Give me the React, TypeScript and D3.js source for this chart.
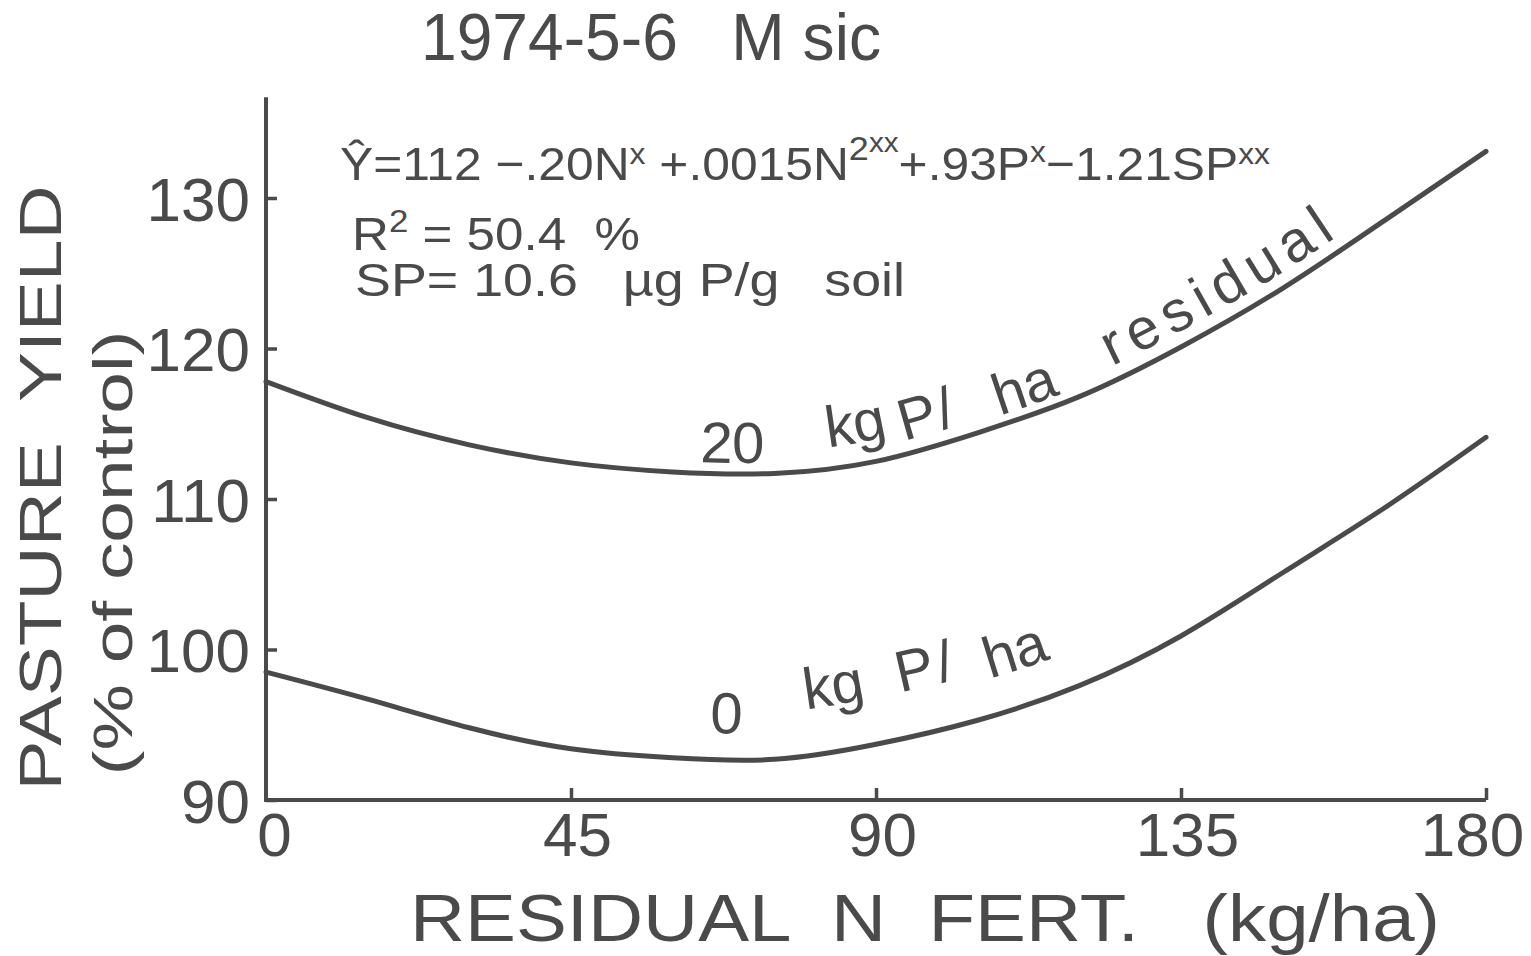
import * as d3 from 'd3';
import { useEffect, useRef } from 'react';

const WIDTH = 1531;
const HEIGHT = 956;

// residual N fertiliser (kg/ha) and pasture yield (% of control)
const N_RATES = [0, 15, 30, 45, 60, 75, 90, 105, 120, 135, 150, 165, 180];
const YIELD_20P = [117.8, 115.4, 113.6, 112.4, 111.8, 111.7, 112.5, 114.4, 116.8, 120.1, 124.0, 128.5, 133.1];
const YIELD_0P = [98.5, 96.7, 94.8, 93.4, 92.8, 92.7, 93.7, 95.3, 97.6, 100.9, 105.1, 109.4, 114.1];
const Y_TICKS = [90, 100, 110, 120, 130];
const X_TICKS = [0, 45, 90, 135, 180];
const Y_TOP = 136.7;

const INK = '#4a4a4a';
const FONT = '"Liberation Sans", Arial, sans-serif';

// hand-lettered words that ride along each curve: [word, start x (px), lift above curve (px), letter spacing]
const LABEL_20P: [string, number, number, number][] = [
    ['20', 700, 11, 0],
    ['kg', 828, 22, 0],
    ['P/', 904, 14, 2],
    ['ha', 1000, 10, 0],
    ['residual', 1112, 16, 8],
];
const LABEL_0P: [string, number, number, number][] = [
    ['0', 710, 27, 0],
    ['kg', 806, 47, 0],
    ['P/', 900, 47, 4],
    ['ha', 990, 38, 0],
];

const CURVES = [
    { key: 'p20', values: YIELD_20P, words: LABEL_20P },
    { key: 'p0', values: YIELD_0P, words: LABEL_0P },
];

/**
 * length along a path where it first reaches x
 */
function lengthAtX(node: SVGPathElement, x: number) {
    let lo = 0;
    let hi = node.getTotalLength();
    for (let i = 0; i < 40; i++) {
        const mid = (lo + hi) / 2;
        if (node.getPointAtLength(mid).x < x) lo = mid;
        else hi = mid;
    }
    return lo;
}

export default function App() {
    const svgRef = useRef<SVGSVGElement>(null);

    useEffect(() => {
        if (!svgRef.current) return;
        const svg = d3.select(svgRef.current);
        svg.selectAll('*').remove();

        const x = d3.scaleLinear().domain([0, 180]).range([266, 1486]);
        const y = d3.scaleLinear().domain([90, 130]).range([800, 198]);

        svg.append('rect').attr('width', WIDTH).attr('height', HEIGHT).attr('fill', '#fff');
        const defs = svg.append('defs');

        // title
        svg.append('text')
            .attr('x', 421)
            .attr('y', 60)
            .attr('font-size', 66)
            .attr('textLength', 460)
            .attr('lengthAdjust', 'spacingAndGlyphs')
            .style('white-space', 'pre')
            .text('1974-5-6   M sic');

        // axes
        const yAxis = d3.axisLeft(y).tickValues(Y_TICKS).tickSize(-11).tickSizeOuter(0).tickPadding(16);
        const gy = svg.append('g').attr('transform', `translate(${x(0)},0)`).call(yAxis);
        const xAxis = d3.axisBottom(x).tickValues(X_TICKS).tickSize(-12).tickSizeOuter(0).tickPadding(12);
        const gx = svg.append('g').attr('transform', `translate(0,${y(90)})`).call(xAxis);

        [gy, gx].forEach((g) => {
            g.select('.domain').remove();
            g.selectAll('.tick line').attr('stroke', INK).attr('stroke-width', 3.5);
            g.selectAll('.tick text')
                .attr('fill', INK)
                .attr('font-family', FONT)
                .attr('font-size', 62);
        });
        gy.selectAll('.tick text').attr('dy', '0.36em');
        gx.selectAll('.tick line').filter((d) => d === 0).remove();
        gx.selectAll('.tick text')
            .attr('dx', (d) => (d === 0 ? 8 : d === 180 ? -14 : 6));

        svg.append('path')
            .attr('d', `M${x(0)},${y(Y_TOP)}V${y(90)}H${x(180)}`)
            .attr('fill', 'none')
            .attr('stroke', INK)
            .attr('stroke-width', 4);

        // axis titles
        svg.append('text')
            .attr('transform', `translate(61,488) rotate(-90)`)
            .attr('text-anchor', 'middle')
            .attr('font-size', 60)
            .attr('textLength', 605)
            .attr('lengthAdjust', 'spacingAndGlyphs')
            .style('white-space', 'pre')
            .text('PASTURE  YIELD');
        svg.append('text')
            .attr('transform', `translate(132,553) rotate(-90)`)
            .attr('text-anchor', 'middle')
            .attr('font-size', 56)
            .attr('textLength', 445)
            .attr('lengthAdjust', 'spacingAndGlyphs')
            .style('white-space', 'pre')
            .text('(% of control)');
        svg.append('text')
            .attr('x', 410)
            .attr('y', 941)
            .attr('font-size', 66)
            .attr('textLength', 1030)
            .attr('lengthAdjust', 'spacingAndGlyphs')
            .style('white-space', 'pre')
            .text('RESIDUAL  N  FERT.   (kg/ha)');

        // regression annotation
        const eq = svg.append('text')
            .attr('x', 340)
            .attr('y', 180)
            .attr('font-size', 47)
            .attr('textLength', 930)
            .attr('lengthAdjust', 'spacingAndGlyphs')
            .style('white-space', 'pre');
        const parts: [string, number, number][] = [
            ['Ŷ=112 −.20N', 0, 47],
            ['x', -16, 30],
            [' +.0015N', 16, 47],
            ['2', -20, 34],
            ['xx', -8, 28],
            ['+.93P', 28, 47],
            ['x', -18, 30],
            ['−1.21SP', 18, 47],
            ['xx', -16, 30],
        ];
        parts.forEach(([t, dy, fs]) => {
            eq.append('tspan').attr('dy', dy).attr('font-size', fs).text(t);
        });

        const r2 = svg.append('text')
            .attr('x', 352)
            .attr('y', 250)
            .attr('font-size', 47)
            .attr('textLength', 288)
            .attr('lengthAdjust', 'spacingAndGlyphs')
            .style('white-space', 'pre');
        r2.append('tspan').text('R');
        r2.append('tspan').attr('dy', -18).attr('font-size', 32).text('2');
        r2.append('tspan').attr('dy', 18).text(' = 50.4  %');

        svg.append('text')
            .attr('x', 355)
            .attr('y', 296)
            .attr('font-size', 47)
            .attr('textLength', 550)
            .attr('lengthAdjust', 'spacingAndGlyphs')
            .style('white-space', 'pre')
            .text('SP= 10.6   µg P/g   soil');

        svg.selectAll('text').attr('fill', INK).attr('font-family', FONT);

        // response curves
        const line = d3
            .line<number>()
            .x((_d, i) => x(N_RATES[i]))
            .y((d) => y(d))
            .curve(d3.curveNatural);

        CURVES.forEach((c) => {
            const d = line(c.values) as string;
            svg.append('path')
                .attr('d', d)
                .attr('fill', 'none')
                .attr('stroke', INK)
                .attr('stroke-width', 5)
                .attr('stroke-linecap', 'round');

            c.words.forEach(([word, startX, lift, spacing], i) => {
                const id = `guide-${c.key}-${i}`;
                const guide = defs
                    .append('path')
                    .attr('id', id)
                    .attr('d', d)
                    .attr('transform', `translate(0,${-lift})`);
                const start = lengthAtX(guide.node() as SVGPathElement, startX);

                svg.append('text')
                    .attr('fill', INK)
                    .attr('font-family', FONT)
                    .attr('font-size', 58)
                    .attr('letter-spacing', spacing)
                    .append('textPath')
                    .attr('href', `#${id}`)
                    .attr('startOffset', start)
                    .text(word);
            });
        });
    }, []);

    return (
        <svg
            ref={svgRef}
            width={WIDTH}
            height={HEIGHT}
            style={{ display: 'block', position: 'absolute', left: 0, top: 0 }}
        />
    );
}
